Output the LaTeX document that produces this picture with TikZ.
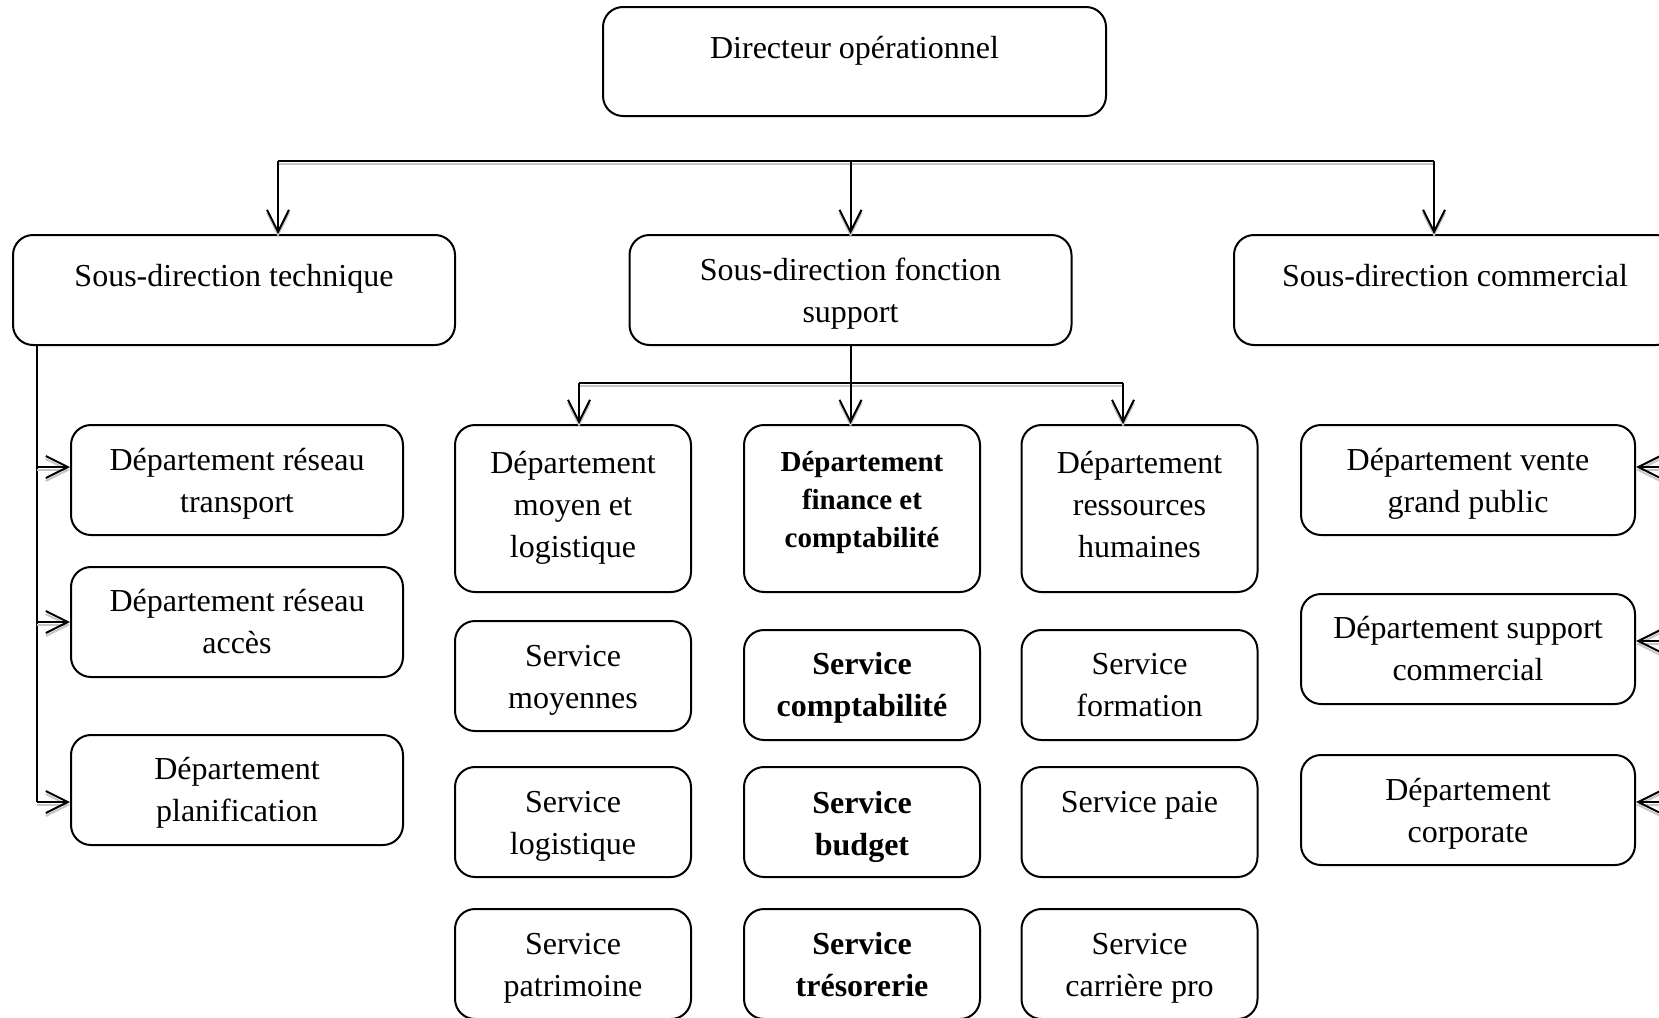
\documentclass[tikz,border=0pt]{standalone}
\usepackage{fontspec}
\setmainfont{Liberation Serif}
\usetikzlibrary{arrows.meta}

% connector drawn with a soft grey drop shadow underneath
\newcommand\orgwire[2][]{%
  \draw[wireshadow,#1] #2;
  \draw[wire,#1] #2;}

% rounded box with its text set from a given last baseline
% #1 text options, #2 name, #3 box size style, #4 centre, #5 last baseline, #6 text
\newcommand\orgbox[6][]{%
  \node[box,#3] (#2) at (#4) {};
  \node[txt,#1,anchor=base] (#2-t) at (#2.center |- 0,#5) {#6};}

\begin{document}
\begin{tikzpicture}[x=0.5pt,y=-0.5pt,
  box/.style={draw, line width=1pt, rounded corners=10pt, inner sep=0pt},
  txt/.style={align=center, inner sep=0pt, font=\fontsize{16}{21}\selectfont},
  heavy/.style={font=\fontsize{16}{21}\selectfont\bfseries},
  sdbox/.style={minimum width=221pt, minimum height=55pt},
  sidebox/.style={minimum width=166pt, minimum height=55pt},
  rightbox/.style={minimum width=167pt, minimum height=55pt},
  colbox/.style={minimum width=118pt, minimum height=55pt},
  tallbox/.style={minimum width=118pt, minimum height=83.5pt},
  wire/.style={draw=black, line width=1pt},
  wireshadow/.style={draw=gray!45, line width=1pt, transform canvas={yshift=-1.5pt}},
  headed/.style={-{Straight Barb[length=11pt,width=11pt]}}
]
\useasboundingbox (0,0) rectangle (1659,1017);
\clip (0,0) rectangle (1659,1017);
\fill[white] (0,0) rectangle (1659,1017);

% top level
\orgbox{dir}{minimum width=251.5pt, minimum height=54.5pt}{854.5,61.5}{58}{Directeur opérationnel}

% sub-directions
\orgbox{tech}{sdbox}{234,290}{286}{Sous-direction technique}
\orgbox{supp}{sdbox}{850.5,290}{322}{Sous-direction fonction\\support}
\orgbox{comm}{sdbox}{1455,290}{286}{Sous-direction commercial}

% technical departments
\orgbox{t1}{sidebox}{237,480}{512}{Département réseau\\transport}
\orgbox{t2}{sidebox}{237,622}{653}{Département réseau\\accès}
\orgbox{t3}{sidebox}{237,790}{821}{Département\\planification}

% support function: logistics
\orgbox{m1}{tallbox}{573,508.5}{557}{Département\\moyen et\\logistique}
\orgbox{m2}{colbox}{573,676}{708}{Service\\moyennes}
\orgbox{m3}{colbox}{573,822}{854}{Service\\logistique}
\orgbox{m4}{colbox}{573,964}{996}{Service\\patrimoine}

% support function: finance
\orgbox[font=\fontsize{14.5}{19}\selectfont\bfseries]{f1}{tallbox}{862,508.5}{547}{Département\\finance et\\comptabilité}
\orgbox[heavy]{f2}{colbox}{862,685}{716}{Service\\comptabilité}
\orgbox[heavy]{f3}{colbox}{862,822}{855}{Service\\budget}
\orgbox[heavy]{f4}{colbox}{862,964}{996}{Service\\trésorerie}

% support function: human resources
\orgbox{h1}{tallbox}{1139.5,508.5}{557}{Département\\ressources\\humaines}
\orgbox{h2}{colbox}{1139.5,685}{716}{Service\\formation}
\orgbox{h3}{colbox}{1139.5,822}{812}{Service paie}
\orgbox{h4}{colbox}{1139.5,964}{996}{Service\\carrière pro}

% commercial departments
\orgbox{c1}{rightbox}{1468,480}{512}{Département vente\\grand public}
\orgbox{c2}{rightbox}{1468,649}{680}{Département support\\commercial}
\orgbox{c3}{rightbox}{1468,810}{842}{Département\\corporate}

% first-level distribution bar
\coordinate (busL) at (278,161);
\coordinate (busR) at (1434,161);
\orgwire{(busL) -- (busR)}
\orgwire[headed]{(busL) -- (busL |- tech.north)}
\orgwire[headed]{(busL -| supp.north) -- (supp.north)}
\orgwire[headed]{(busR) -- (busR |- comm.north)}

% support function distribution bar
\coordinate (sbL) at (579,383);
\coordinate (sbR) at (1123,383);
\orgwire{(sbL) -- (sbR)}
\orgwire[headed]{(supp.south) -- (supp.south |- f1.north)}
\orgwire[headed]{(sbL) -- (sbL |- m1.north)}
\orgwire[headed]{(sbR) -- (sbR |- h1.north)}

% technical spine
\coordinate (spine) at (37,345);
\coordinate (la1) at (spine |- 0,467);
\coordinate (la2) at (spine |- 0,622);
\coordinate (la3) at (spine |- 0,802);
\draw[wire] (spine) -- (la3);
\orgwire[headed]{(la1) -- (la1 -| t1.west)}
\orgwire[headed]{(la2) -- (la2 -| t2.west)}
\orgwire[headed]{(la3) -- (la3 -| t3.west)}

% commercial feeds entering from the right
\coordinate (ra1) at (1700,467);
\coordinate (ra2) at (1700,641);
\coordinate (ra3) at (1700,802);
\orgwire[headed]{(ra1) -- (ra1 -| c1.east)}
\orgwire[headed]{(ra2) -- (ra2 -| c2.east)}
\orgwire[headed]{(ra3) -- (ra3 -| c3.east)}
\end{tikzpicture}
\end{document}
